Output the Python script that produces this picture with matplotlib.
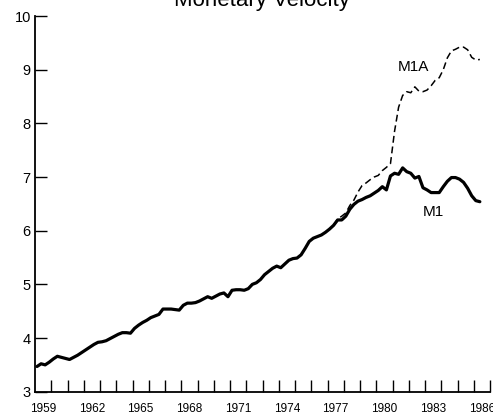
import matplotlib
matplotlib.use("Agg")
import matplotlib.pyplot as plt
import numpy as np

plt.rcParams['font.family'] = ['Liberation Sans', 'DejaVu Sans']

title = "Monetary Velocity"

# Quarterly velocity of M1 (1959Q1 .. 1986Q2)
m1_values = [
    3.47, 3.52, 3.50, 3.55,   # 1959
    3.61, 3.66, 3.64, 3.62,   # 1960
    3.60, 3.64, 3.68, 3.73,   # 1961
    3.78, 3.83, 3.88, 3.92,   # 1962
    3.93, 3.95, 3.99, 4.03,   # 1963
    4.07, 4.10, 4.10, 4.09,   # 1964
    4.18, 4.24, 4.29, 4.33,   # 1965
    4.38, 4.41, 4.44, 4.54,   # 1966
    4.54, 4.54, 4.53, 4.52,   # 1967
    4.61, 4.65, 4.65, 4.66,   # 1968
    4.69, 4.73, 4.77, 4.74,   # 1969
    4.78, 4.82, 4.84, 4.77,   # 1970
    4.89, 4.90, 4.90, 4.89,   # 1971
    4.92, 5.00, 5.03, 5.09,   # 1972
    5.18, 5.24, 5.30, 5.34,   # 1973
    5.31, 5.38, 5.45, 5.48,   # 1974
    5.49, 5.55, 5.67, 5.80,   # 1975
    5.86, 5.89, 5.92, 5.97,   # 1976
    6.03, 6.10, 6.20, 6.20,   # 1977
    6.27, 6.40, 6.49, 6.55,   # 1978
    6.58, 6.62, 6.65, 6.70,   # 1979
    6.75, 6.82, 6.76, 7.02,   # 1980
    7.07, 7.05, 7.17, 7.10,   # 1981
    7.07, 6.98, 7.01, 6.80,   # 1982
    6.76, 6.71, 6.71, 6.71,   # 1983
    6.82, 6.92, 6.99, 6.99,   # 1984
    6.96, 6.90, 6.79, 6.65,   # 1985
    6.56, 6.54,               # 1986
]
m1_start = 1959.125

# Quarterly velocity of M1A (1977Q2 .. 1986Q2)
m1a_values = [
    6.10, 6.22, 6.27,         # 1977
    6.33, 6.47, 6.57, 6.72,   # 1978
    6.84, 6.89, 6.95, 7.00,   # 1979
    7.03, 7.12, 7.18, 7.25,   # 1980
    7.85, 8.30, 8.52, 8.59,   # 1981
    8.57, 8.68, 8.60, 8.59,   # 1982
    8.62, 8.70, 8.80, 8.85,   # 1983
    9.00, 9.22, 9.35, 9.38,   # 1984
    9.42, 9.42, 9.37, 9.23,   # 1985
    9.18, 9.19,               # 1986
]
m1a_start = 1977.375

year_labels = [str(y) for y in range(1959, 1987, 3)]
y_ticks = [3, 4, 5, 6, 7, 8, 9, 10]

m1_x = m1_start + 0.25 * np.arange(len(m1_values))
m1a_x = m1a_start + 0.25 * np.arange(len(m1a_values))

fig = plt.figure(figsize=(4.93, 4.17), dpi=100)
ax = fig.add_axes([35 / 493, (417 - 391.7) / 417, 455 / 493, 375.7 / 417])

ax.plot(m1_x, m1_values, color='black', lw=2.3, solid_joinstyle='round', solid_capstyle='round')
ax.plot(m1a_x, m1a_values, color='black', lw=1.1, linestyle=(0, (4.5, 2.5)))

ax.set_xlim(1959, 1987)
ax.set_ylim(3, 10)

ax.spines['top'].set_visible(False)
ax.spines['right'].set_visible(False)
for s in ('left', 'bottom'):
    ax.spines[s].set_linewidth(1.3)

ax.set_yticks(y_ticks)
ax.set_yticklabels([str(v) for v in y_ticks], fontsize=10.5)
ax.tick_params(axis='y', direction='in', length=8.5, width=1.0, pad=3)

ax.set_xticks(np.arange(1960, 1988))
ax.set_xticklabels([])
ax.tick_params(axis='x', which='major', direction='in', length=8.5, width=1.0)
ax.set_xticks([int(l) + 0.5 for l in year_labels], minor=True)
ax.set_xticklabels(year_labels, minor=True, fontsize=8.5)
ax.tick_params(axis='x', which='minor', length=0, pad=8)

ax.text(1982.27, 9.05, "M1A", fontsize=11, ha='center', va='center')
ax.text(1983.49, 6.35, "M1", fontsize=11, ha='center', va='center')

fig.text(262 / 493, (417 - 6) / 417, title, fontsize=16, ha='center', va='baseline')

fig.savefig("out.png", dpi=100)
